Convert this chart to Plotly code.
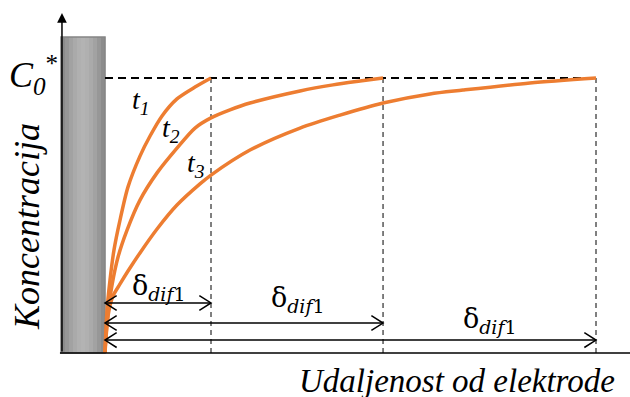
import plotly.graph_objects as go

# distance from the electrode surface (units of the first diffusion layer thickness)
# and normalised concentration C/C0* for three times
t1_x = [0.0, 0.019, 0.047, 0.085, 0.142, 0.217, 0.330, 0.425, 0.538, 0.679, 0.849, 1.0]
t1_c = [0.0, 0.156, 0.265, 0.375, 0.484, 0.604, 0.716, 0.789, 0.862, 0.924, 0.967, 1.0]

t2_x = [0.0, 0.019, 0.038, 0.066, 0.123, 0.208, 0.330, 0.491, 0.679, 0.849, 1.0, 1.179, 1.368, 1.840,
        2.151, 2.406, 2.623]
t2_c = [0.0, 0.102, 0.175, 0.247, 0.349, 0.447, 0.556, 0.655, 0.745, 0.818, 0.855, 0.884, 0.909, 0.953,
        0.975, 0.989, 1.0]

t3_x = [0.0, 0.009, 0.038, 0.075, 0.142, 0.217, 0.330, 0.491, 0.679, 0.896, 1.0, 1.368, 1.840, 2.217,
        2.623, 3.066, 3.377, 4.009, 4.632]
t3_c = [0.0, 0.065, 0.156, 0.207, 0.251, 0.298, 0.364, 0.451, 0.538, 0.615, 0.647, 0.738, 0.818, 0.865,
        0.909, 0.942, 0.956, 0.982, 1.0]

# diffusion layer thicknesses for t1, t2, t3
delta = [1.0, 2.623, 4.632]
arrow_y = [0.182, 0.109, 0.047]

curve_labels = ["<i>t</i><sub><i>1</i></sub>", "<i>t</i><sub><i>2</i></sub>", "<i>t</i><sub><i>3</i></sub>"]
curve_label_pos = [(0.34, 0.916), (0.623, 0.811), (0.858, 0.684)]

ORANGE = "#ED7D31"
SERIF = "Liberation Serif"

fig = go.Figure()

# electrode block, gray with darker edges
el_x0, el_x1, el_top = -0.415, 0.0, 1.149
grays = ["#8c8c8c", "#979797", "#a2a2a2", "#aaaaaa", "#b0b0b0", "#b3b3b3",
         "#b0b0b0", "#aaaaaa", "#a2a2a2", "#979797", "#8c8c8c"]
w = (el_x1 - el_x0) / len(grays)
for i, g in enumerate(grays):
    fig.add_shape(type="rect", x0=el_x0 + i * w, x1=el_x0 + (i + 1) * w + 0.002,
                  y0=0, y1=el_top, fillcolor=g, line_width=0, layer="below")
fig.add_shape(type="rect", x0=el_x0, x1=el_x1, y0=0, y1=el_top,
              line=dict(color="#858585", width=1.5), layer="below")

# C0* level and the vertical dashed limits
fig.add_shape(type="line", x0=el_x1, x1=delta[-1], y0=1, y1=1,
              line=dict(color="black", width=2, dash="8px,5px"), layer="below")
for d in delta:
    fig.add_shape(type="line", x0=d, x1=d, y0=0, y1=1,
                  line=dict(color="black", width=1, dash="5px,4px"), layer="below")

# x axis line
fig.add_shape(type="line", x0=-0.425, x1=4.96, y0=0, y1=0,
              line=dict(color="black", width=1.5))

# concentration profiles
for xs, cs in [(t1_x, t1_c), (t2_x, t2_c), (t3_x, t3_c)]:
    fig.add_trace(go.Scatter(x=xs, y=cs, mode="lines",
                             line=dict(color=ORANGE, width=3.5, shape="spline", smoothing=0.8),
                             showlegend=False, hoverinfo="skip"))

# double-headed arrows for the diffusion layers
hx, hy = 0.11, 0.027
for d, ya in zip(delta, arrow_y):
    xs = [hx, 0, hx, None, 0, d, None, d - hx, d, d - hx]
    ys = [ya + hy, ya, ya - hy, None, ya, ya, None, ya + hy, ya, ya - hy]
    fig.add_trace(go.Scatter(x=xs, y=ys, mode="lines", line=dict(color="black", width=1.5),
                             showlegend=False, hoverinfo="skip"))

# delta labels, centred between consecutive limits
starts = [0.0] + delta[:-1]
label_y = [0.24, 0.193, 0.12]
for s, d, ly in zip(starts, delta, label_y):
    fig.add_annotation(x=(s + d) / 2, y=ly, xref="x", yref="y", showarrow=False,
                       text="δ<sub><i>dif</i>1</sub>", font=dict(family="DejaVu Serif", size=27))

for txt, (lx, ly) in zip(curve_labels, curve_label_pos):
    fig.add_annotation(x=lx, y=ly, xref="x", yref="y", showarrow=False, text=txt,
                       font=dict(family=SERIF, size=28))

fig.add_annotation(x=-0.67, y=1.01, xref="x", yref="y", showarrow=False,
                   text="<i>C</i><sub><i>0</i></sub><sup>*</sup>", font=dict(family=SERIF, size=36))

# y axis arrow
fig.add_annotation(x=-0.406, y=1.236, ax=-0.406, ay=0, xref="x", yref="y", axref="x", ayref="y",
                   text="", showarrow=True, arrowhead=2, arrowsize=1.3, arrowwidth=1.5, arrowcolor="black")

fig.add_annotation(x=-0.736, y=0.462, xref="x", yref="y", showarrow=False, textangle=-90,
                   text="<i>Koncentracija</i>", font=dict(family=SERIF, size=36))
fig.add_annotation(x=3.321, y=-0.102, xref="x", yref="y", showarrow=False,
                   text="<i>Udaljenost od elektrode</i>", font=dict(family=SERIF, size=33))

fig.update_layout(
    width=630, height=397,
    margin=dict(l=0, r=0, t=0, b=0),
    font=dict(family=SERIF, color="black"),
    plot_bgcolor="white", paper_bgcolor="white",
    xaxis=dict(range=[-0.9906, 4.9528], visible=False, fixedrange=True),
    yaxis=dict(range=[-0.16, 1.2836], visible=False, fixedrange=True),
)

fig.write_html("out.html", config={"displayModeBar": False},
               post_script="document.body.style.margin='0px';")
